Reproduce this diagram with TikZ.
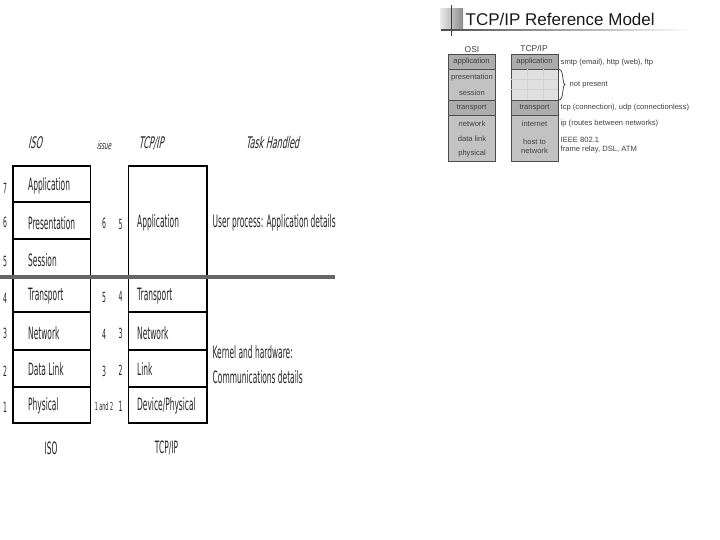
\documentclass[tikz,border=0pt]{standalone}
\usepackage{fontspec}
\setmainfont{Liberation Sans}
\newfontfamily\narrowf[FakeStretch=0.44]{DejaVu Sans}
\newfontfamily\narrowi[FakeStretch=0.5,FakeSlant=0.2]{DejaVu Sans}
\definecolor{cellA}{gray}{0.68}
\definecolor{cellB}{gray}{0.76}
\definecolor{cellC}{gray}{0.88}
\definecolor{inkS}{gray}{0.25}
\tikzset{
  layer/.style={draw=black,line width=1.5pt,fill=white,inner sep=0pt,outer sep=0pt,anchor=north west},
  txt/.style={font=\narrowf\fontsize{17}{17}\selectfont,text=black!85,inner sep=0pt},
  ltxt/.style={txt,anchor=west},
  smalln/.style={font=\narrowf\fontsize{14}{14}\selectfont,text=black!85,inner sep=0pt},
  head/.style={font=\narrowi\fontsize{16}{16}\selectfont,text=black!85,inner sep=0pt},
  cell/.style={draw=black!70,line width=0.7pt,inner sep=0pt,outer sep=0pt,anchor=north west,fill=cellA},
  stxt/.style={font=\fontsize{7.6}{8}\selectfont,text=inkS,inner sep=0pt},
  rtxt/.style={stxt,anchor=west}
}
\newcommand{\layerbox}[5]{\node[layer,minimum width=#4pt,minimum height=#5pt] (#1) at (#2,#3) {};}
\begin{document}
\begin{tikzpicture}[x=1pt,y=-1pt]
\useasboundingbox (0,0) rectangle (720,540);
% ---- slide title decoration
\node[inner sep=0pt,outer sep=0pt,minimum width=23pt,minimum height=21pt,anchor=north west,left color=black!8,right color=black!45] (deco) at (440,9) {};
\fill[left color=black!70,right color=white] (441,29.5) rectangle (692,31);
\coordinate (vt) at (451,5); \coordinate (vb) at (451,36);
\draw[line width=1pt,black!75] (vt) -- (vb);
\node[anchor=west,inner sep=0pt,font=\fontsize{17}{17}\selectfont,text=black!90] (title) at (465.5,19) {TCP/IP Reference Model};
% ---- OSI small table
\node[stxt,font=\fontsize{8.5}{8.5}\selectfont] (osih) at (472,50) {OSI};
\node[stxt,font=\fontsize{8.5}{8.5}\selectfont] (tcph) at (534,48) {TCP/IP};
\node[cell,minimum width=47pt,minimum height=15pt] (o1) at (448,54) {};
\node[cell,fill=cellB,minimum width=47pt,minimum height=31pt] (o2) at (448,69) {};
\node[cell,minimum width=47pt,minimum height=15pt] (o3) at (448,100) {};
\node[cell,fill=cellB,minimum width=47pt,minimum height=46pt] (o4) at (448,115) {};
\node[stxt] at (o1) {application};
\node[stxt] at (472,78) {presentation};
\node[stxt] at (472,93) {session};
\node[stxt] at (o3) {transport};
\node[stxt] at (472,123.5) {network};
\node[stxt] at (472,138.5) {data link};
\node[stxt] at (472,154) {physical};
\node[cell,minimum width=47pt,minimum height=15pt] (t1) at (511,54) {};
\node[cell,fill=cellC,minimum width=47pt,minimum height=31pt] (t2) at (511,69) {};
\node[cell,minimum width=47pt,minimum height=15pt] (t3) at (511,100) {};
\node[cell,fill=cellB,minimum width=47pt,minimum height=46pt] (t4) at (511,115) {};
\draw[black!18,line width=0.3pt] (t2.north west) ++(0,10) -- ++(47,0) ++(-47,10) -- ++(47,0) (t2.north west) ++(16,0) -- ++(0,31) ++(16,-31) -- ++(0,31);
\node[stxt] at (t1) {application};
\node[stxt] at (t3) {transport};
\node[stxt] at (534.5,123.5) {internet};
\node[stxt,align=center] at (534.5,146) {host to\\[1pt]network};
\node[rtxt] at (560.5,62.5) {smtp (email), http (web), ftp};
\node[rtxt] (np) at (569.5,84.5) {not present};
\node[rtxt] at (560.5,108) {tcp (connection), udp (connectionless)};
\node[rtxt] at (560.5,123.5) {ip (routes between networks)};
\node[rtxt] at (560.5,140) {IEEE 802.1};
\node[rtxt] at (560.5,149.5) {frame relay, DSL, ATM};
\coordinate (bt) at (559,69.5); \coordinate (bb) at (559,100);
\draw[line width=0.7pt,black!80] (bt) .. controls (564,69.5) and (562,84) .. (565,84.5) .. controls (562,85) and (564,100) .. (bb);
% ---- left headers
\node[head] at (35,143) {ISO};
\node[head,font=\narrowi\fontsize{11}{11}\selectfont] at (104,145.5) {issue};
\node[head] at (151,143) {TCP/IP};
\node[head] at (272.5,142.5) {Task Handled};
% ---- ISO stack
\layerbox{i7}{13}{166}{77.5}{36}
\layerbox{i6}{13}{202}{77.5}{37}
\layerbox{i5}{13}{239}{77.5}{37}
\layerbox{i4}{13}{276}{77.5}{36}
\layerbox{i3}{13}{312}{77.5}{38}
\layerbox{i2}{13}{350}{77.5}{37}
\layerbox{i1}{13}{387}{77.5}{36}
\node[ltxt] at (28,186) {Application};
\node[ltxt] at (28,223) {Presentation};
\node[ltxt] at (28,260) {Session};
\node[ltxt] at (28,296) {Transport};
\node[ltxt] at (28,333) {Network};
\node[ltxt] at (28,369) {Data Link};
\node[ltxt] at (28,406) {Physical};
\node[smalln] at (5,188) {7};
\node[smalln] at (5,222) {6};
\node[smalln] at (5,261) {5};
\node[smalln] at (5,298) {4};
\node[smalln] at (5,333) {3};
\node[smalln] at (5,371) {2};
\node[smalln] at (5,407) {1};
% ---- TCP/IP stack
\layerbox{p4}{128.5}{166}{78.5}{110}
\layerbox{p3}{128.5}{276}{78.5}{36}
\layerbox{p2}{128.5}{312}{78.5}{38}
\layerbox{p1}{128.5}{350}{78.5}{37}
\layerbox{p0}{128.5}{387}{78.5}{36}
\node[ltxt] at (137,223) {Application};
\node[ltxt] at (137,296) {Transport};
\node[ltxt] at (137,333) {Network};
\node[ltxt] at (137,369) {Link};
\node[ltxt] at (137,406) {Device/Physical};
% ---- mapping numbers
\node[smalln] at (104,223) {6};
\node[smalln] at (120.5,224) {5};
\node[smalln] at (104,297) {5};
\node[smalln] at (120.5,296) {4};
\node[smalln] at (104,334) {4};
\node[smalln] at (120.5,333) {3};
\node[smalln] at (104,371) {3};
\node[smalln] at (120.5,370) {2};
\node[smalln,font=\narrowf\fontsize{11}{11}\selectfont] at (104,406) {1 and 2};
\node[smalln] at (120.5,406) {1};
% ---- task text
\node[ltxt] at (212.5,223) {User process: Application details};
\node[ltxt] at (212.5,352) {Kernel and hardware:};
\node[ltxt] at (212.5,377) {Communications details};
% ---- divider
\coordinate (dl) at (0,276.5); \coordinate (dr) at (335,276.5);
\draw[line width=4pt,black!60] (dl) -- (dr);
% ---- footers
\node[txt] at (51,448) {ISO};
\node[txt] at (166.5,448) {TCP/IP};
\end{tikzpicture}
\end{document}
